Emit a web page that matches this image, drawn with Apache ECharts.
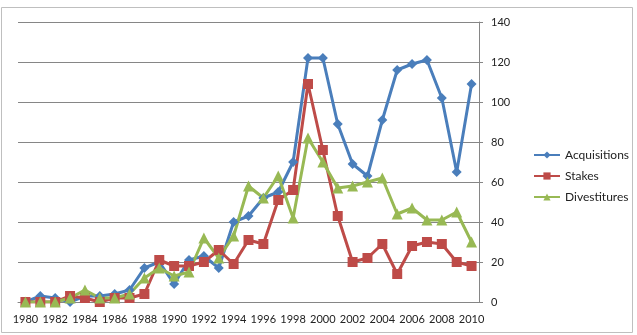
<!DOCTYPE html>
<html>
<head>
<meta charset="utf-8">
<script src="https://cdn.jsdelivr.net/npm/echarts@6/dist/echarts.min.js"></script>
<style>
  html, body { margin: 0; padding: 0; background: #fff; }
  #main { width: 637px; height: 335px; }
</style>
</head>
<body>
<div id="main"></div>
<script>
var years = [];
for (var y = 1980; y <= 2010; y++) years.push(String(y));

var acquisitions = [0, 3, 2, 0, 3, 3, 4, 6, 17, 20, 9, 21, 23, 17, 40, 43, 52, 55, 70, 122, 122, 89, 69, 63, 91, 116, 119, 121, 102, 65, 109];
var stakes = [0, 0, 0, 3, 2, 0, 2, 2, 4, 21, 18, 18, 20, 26, 19, 31, 29, 51, 56, 109, 76, 43, 20, 22, 29, 14, 28, 30, 29, 20, 18];
var divestitures = [0, 0, 0, 2, 6, 2, 2, 4, 12, 17, 13, 15, 32, 22, 33, 58, 52, 63, 42, 82, 70, 57, 58, 60, 62, 44, 47, 41, 41, 45, 30];

var fontFam = 'Lato, "Open Sans", sans-serif';

function display_chart(){
    var chart = echarts.init(document.getElementById('main'));
    var option = {
        backgroundColor: '#fff',
        animation: false,
        textStyle: { fontFamily: fontFam },
        graphic: [{
            type: 'rect',
            shape: { x: 1.5, y: 7.5, width: 631, height: 325 },
            style: { fill: 'none', stroke: '#bfbfbf', lineWidth: 1 },
            silent: true
        }],
        grid: { left: 18, right: 158, top: 22, bottom: 33 },
        legend: {
            orient: 'vertical',
            left: 528,
            top: 144,
            itemWidth: 26,
            itemHeight: 9,
            itemGap: 9,
            textStyle: { fontSize: 12, color: '#222', fontFamily: fontFam },
            data: ['Acquisitions', 'Stakes', 'Divestitures']
        },
        xAxis: {
            type: 'category',
            data: years,
            boundaryGap: true,
            axisLine: { lineStyle: { color: '#868686' } },
            axisTick: { interval: 0, length: 4, lineStyle: { color: '#868686' } },
            axisLabel: { interval: 1, fontSize: 11, color: '#222', margin: 12 }
        },
        yAxis: {
            type: 'value',
            position: 'right',
            min: 0,
            max: 140,
            interval: 20,
            axisLine: { show: true, lineStyle: { color: '#868686' } },
            axisTick: { show: true, length: 4, lineStyle: { color: '#868686' } },
            splitLine: { lineStyle: { color: '#868686' } },
            axisLabel: { fontSize: 11, color: '#222', margin: 12 }
        },
        series: [
            {
                name: 'Acquisitions', type: 'line', data: acquisitions,
                symbol: 'diamond', symbolSize: 10, showAllSymbol: true,
                itemStyle: { color: '#4A7EBB' },
                lineStyle: { width: 3, color: '#4A7EBB' }
            },
            {
                name: 'Stakes', type: 'line', data: stakes,
                symbol: 'rect', symbolSize: 10, showAllSymbol: true,
                itemStyle: { color: '#BE4B48' },
                lineStyle: { width: 3, color: '#BE4B48' }
            },
            {
                name: 'Divestitures', type: 'line', data: divestitures,
                symbol: 'triangle', symbolSize: 11, showAllSymbol: true,
                itemStyle: { color: '#98B954' },
                lineStyle: { width: 3, color: '#98B954' }
            }
        ]
    };
    chart.setOption(option);
}
display_chart();
</script>
</body>
</html>
